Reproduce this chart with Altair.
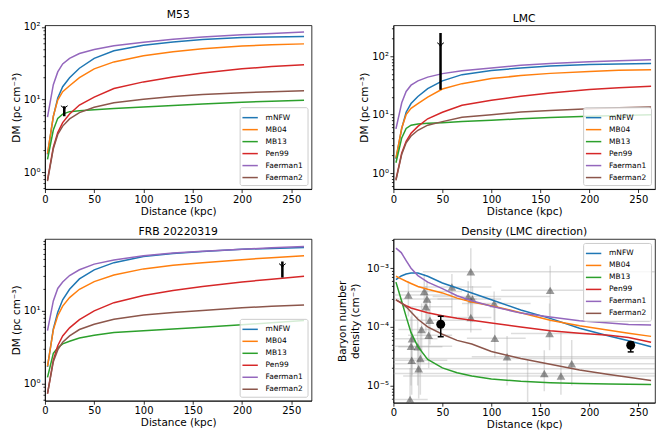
import altair as alt
import pandas as pd

FONT = "DejaVu Sans"
MODELS = ["mNFW", "MB04", "MB13", "Pen99", "Faerman1", "Faerman2"]
COLORS = ["#1f77b4", "#ff7f0e", "#2ca02c", "#d62728", "#9467bd", "#8c564b"]

# ---------------- DM panels (distance grid, kpc) ----------------
dist_dm = [2.6, 8.5, 13, 18, 25, 35, 50, 70, 100, 130, 160, 200, 230, 263]

# M53
m53_mnfw = [1.75, 5.8, 10.5, 15, 20, 27, 37, 47, 56, 62, 67, 71.5, 73, 74]
m53_mb04 = [1.8, 5.9, 9.8, 12.8, 15.5, 20, 26.5, 33, 40, 45.5, 50, 54.5, 56.8, 58.5]
m53_mb13 = [1.5, 3.8, 5.5, 6.3, 6.8, 7.0, 7.2, 7.5, 7.9, 8.3, 8.7, 9.2, 9.5, 9.8]
m53_pen99 = [0.78, 2.2, 3.5, 4.8, 6.3, 8.4, 10.8, 14.2, 17.5, 20.4, 23.2, 26.5, 28.5, 30.2]
m53_faer1 = [5.7, 16, 24, 31, 37, 43, 49, 55, 61.5, 67.5, 72.5, 78, 81.5, 85]
m53_faer2 = [0.75, 2.1, 3.3, 4.3, 5.4, 6.6, 7.8, 9.0, 10.1, 11.0, 11.7, 12.4, 12.8, 13.2]

# LMC
lmc_mnfw = [1.75, 5.8, 11, 15.5, 20.5, 28, 38, 48.5, 57, 63, 68, 72.5, 74, 75]
lmc_mb04 = [1.8, 5.9, 10, 12.8, 15.5, 20, 27.5, 34, 41.5, 46.8, 51, 55, 57.5, 59]
lmc_mb13 = [1.5, 4.0, 5.8, 6.6, 6.9, 7.1, 7.3, 7.6, 8.0, 8.5, 8.9, 9.4, 9.7, 10]
lmc_pen99 = [0.78, 2.2, 3.5, 4.8, 6.3, 8.5, 11, 14.5, 17.6, 20.6, 23.5, 27, 29, 30.6]
lmc_faer1 = [5.7, 16, 25, 32, 38, 44, 50.5, 56.5, 63, 70, 75, 80.5, 84, 87.5]
lmc_faer2 = [0.75, 2.1, 3.3, 4.3, 5.4, 6.6, 7.6, 9.0, 10, 11.1, 11.8, 12.6, 13.1, 13.5]

# FRB 20220319
frb_mnfw = [1.7, 5.6, 9.5, 14, 19.5, 27, 35.9, 45, 54.5, 60, 64, 68.6, 70.5, 72.3]
frb_mb04 = [1.72, 5.45, 8.5, 11.5, 15, 19.5, 24.8, 30.5, 37, 41.5, 45, 49.5, 52.5, 56]
frb_mb13 = [1.22, 2.6, 3.1, 3.5, 3.8, 4.2, 4.6, 5.0, 5.3, 5.6, 5.9, 6.4, 6.8, 7.3]
frb_pen99 = [0.73, 2.1, 3.3, 4.5, 5.8, 7.5, 9.9, 12.8, 16, 18.8, 21.2, 24.5, 26.8, 29.4]
frb_faer1 = [5.3, 13.5, 20, 24.5, 30, 36, 43, 49, 56, 61, 64.5, 68.6, 72, 75]
frb_faer2 = [0.73, 2.0, 2.9, 3.7, 4.5, 5.5, 6.5, 7.6, 8.7, 9.4, 10, 10.9, 11.4, 11.9]

# observational limits (distance, low, high, arrow position)
m53_lim = [19.6, 5.9, 8.05, 7.7]
lmc_lim = [48.1, 26.8, 251, 158]
frb_lim = [241, 28.2, 46.6, 41]

# ---------------- Density panel ----------------
dist_den = [2.6, 8, 13, 18, 25, 35, 50, 65, 80, 100, 130, 160, 190, 220, 240, 263]
den_mnfw = [6.4e-4, 7.4e-4, 8.0e-4, 8.3e-4, 8.3e-4, 7.3e-4, 5.6e-4, 4.6e-4, 3.8e-4, 2.9e-4,
            1.95e-4, 1.4e-4, 9.5e-5, 7.0e-5, 5.8e-5, 4.6e-5]
den_mb04 = [7.3e-4, 6.6e-4, 6.0e-4, 5.5e-4, 4.9e-4, 4.4e-4, 3.8e-4, 3.1e-4, 2.65e-4, 2.3e-4,
            1.75e-4, 1.3e-4, 1.05e-4, 8.8e-5, 7.8e-5, 6.9e-5]
den_mb13 = [5.8e-4, 2.9e-4, 1.5e-4, 8.0e-5, 4.6e-5, 2.8e-5, 2.0e-5, 1.65e-5, 1.45e-5, 1.3e-5,
            1.18e-5, 1.12e-5, 1.08e-5, 1.06e-5, 1.05e-5, 1.04e-5]
den_pen99 = [2.9e-4, 2.55e-4, 2.3e-4, 2.1e-4, 1.95e-4, 1.75e-4, 1.55e-4, 1.4e-4, 1.3e-4, 1.17e-4,
             1.0e-4, 8.6e-5, 7.8e-5, 7.2e-5, 6.6e-5, 5.5e-5]
den_faer1 = [2.2e-3, 1.85e-3, 1.35e-3, 1.0e-3, 7.5e-4, 5.8e-4, 4.5e-4, 3.4e-4, 2.8e-4, 2.25e-4,
             1.72e-4, 1.48e-4, 1.28e-4, 1.17e-4, 1.1e-4, 1.08e-4]
den_faer2 = [2.9e-4, 2.6e-4, 2.2e-4, 1.8e-4, 1.35e-4, 1.0e-4, 7.5e-5, 5.9e-5, 5.1e-5, 3.8e-5,
             2.9e-5, 2.3e-5, 1.85e-5, 1.55e-5, 1.38e-5, 1.22e-5]

# literature points (grey triangles) with errors
tri_d = [15.3, 31.5, 34.3, 33.2, 37.3, 28.8, 36.0, 19.0, 18.0, 18.7, 24.8, 27.5, 25.8, 17.0,
         59.7, 79.0, 76.3, 80.7, 79.0, 102.8, 103.5, 116.0, 154.0, 160.0, 159.4, 171.0, 182.0, 137.0]
tri_n = [3.5e-4, 4.0e-4, 3.0e-4, 2.2e-4, 1.3e-4, 9.0e-5, 7.2e-5, 6.3e-5, 4.7e-5, 2.7e-5, 4.6e-5,
         2.9e-5, 1.94e-5, 5.8e-6, 4.8e-4, 8.7e-4, 3.3e-4, 3.0e-4, 1.45e-4, 2.5e-4, 6.4e-5, 3.1e-5,
         1.6e-5, 4.2e-4, 7.7e-5, 1.46e-5, 2.35e-5, 3.5e-6]
tri_dlo = [0, 5, 0, 10, 0, 5, 15, 0, 0, 0, 5, 0, 0, 0,
           25, 30, 40, 45, 50, 70, 75, 80, 0, 110, 120, 10, 0, 100]
tri_dhi = [60, 70, 85, 60, 80, 90, 60, 45, 60, 55, 50, 270, 270, 35,
           100, 270, 160, 110, 100, 140, 135, 270, 270, 210, 200, 270, 270, 170]
tri_nlo = [1.5e-4, 2e-4, 1.2e-4, 8e-5, 5e-5, 3e-5, 2e-5, 1.5e-5, 1e-5, 7e-6, 1e-5, 7e-6, 6e-6, 2e-6,
           1.5e-4, 1.2e-4, 1.5e-4, 1.2e-4, 8e-5, 1.3e-4, 3e-5, 1e-5, 8e-6, 1.2e-4, 4e-5, 7e-6, 1e-5, 1e-6]
tri_nhi = [6e-4, 8e-4, 6e-4, 5e-4, 3e-4, 2.5e-4, 2e-4, 2e-4, 1.5e-4, 8e-5, 1.5e-4, 1e-4, 6e-5, 2e-5,
           8e-4, 2.2e-3, 6e-4, 5e-4, 3e-4, 4e-4, 2.5e-4, 7e-5, 4e-5, 1.1e-3, 2.5e-4, 8e-5, 6e-5, 2.8e-5]

# this work (black points)
obs_d = [48.3, 242.2]
obs_n = [1.11e-4, 4.87e-5]
obs_lo = [6.8e-5, 3.75e-5]
obs_hi = [1.52e-4, 5.5e-5]


def model_frame(dist, series):
    rows = []
    for name, vals in zip(MODELS, series):
        for d, v in zip(dist, vals):
            rows.append({"d": d, "v": v, "model": name})
    return pd.DataFrame(rows)


def minor_values(lo_exp, hi_exp, vmin, vmax):
    vals = []
    for e in range(lo_exp, hi_exp + 1):
        for k in range(1, 10):
            v = k * 10.0 ** e
            if vmin <= v <= vmax:
                vals.append(v)
    return vals


def y_axis(title, majors, labels, values, title_pad=2):
    parts = [f"abs(datum.value - {m:.10f}) < {m * 1e-6:.14f} ? '{l}'" for m, l in zip(majors, labels)]
    expr = " : ".join(parts) + " : ''"
    test = "abs(log(datum.value)/LN10 - round(log(datum.value)/LN10)) < 0.001"
    return alt.Axis(
        title=title, values=values, labelExpr=expr,
        tickSize={"condition": {"test": test, "value": 3.5}, "value": 2},
        grid=False, titlePadding=title_pad,
    )


def x_enc(xmax):
    return alt.X("d:Q", scale=alt.Scale(domain=[0, xmax], nice=False, zero=False),
                 axis=alt.Axis(title="Distance (kpc)", values=[0, 50, 100, 150, 200, 250],
                               labelFlush=False, grid=False, tickSize=3.5))


def legend(orient):
    return alt.Legend(
        orient=orient, offset=4, title=None, symbolType="M-1.4,0L1.4,0", symbolSize=121,
        symbolStrokeWidth=1.5, labelFontSize=7.5, labelFont=FONT, padding=4,
        strokeColor="#cccccc", fillColor="rgba(255,255,255,0.8)", cornerRadius=2,
        rowPadding=2, labelOffset=9,
    )


color_scale = alt.Scale(domain=MODELS, range=COLORS)

dm_title = "DM (pc cm⁻³)"
DM_MAJ = [1, 10, 100]
DM_LAB = ["10⁰", "10¹", "10²"]


def dm_panel(title, series, ydom, lim, xmax, w, h):
    df = model_frame(dist_dm, series)
    x = x_enc(xmax)
    y = alt.Y("v:Q", scale=alt.Scale(type="log", domain=ydom, nice=False),
              axis=y_axis(dm_title, DM_MAJ, DM_LAB, minor_values(-1, 2, ydom[0], ydom[1])))
    lines = alt.Chart(df).mark_line(strokeWidth=1.5, clip=True).encode(
        x=x, y=y, color=alt.Color("model:N", scale=color_scale, legend=legend("bottom-right")),
        detail="model:N")
    ldf = pd.DataFrame({"d": [lim[0]], "v": [lim[1]], "v2": [lim[2]]})
    bar = alt.Chart(ldf).mark_rule(strokeWidth=2.5, color="black", clip=True).encode(
        x=x, y=y, y2="v2:Q")
    adf = pd.DataFrame({"d": [lim[0]], "v": [lim[3]]})
    arrow = alt.Chart(adf).mark_point(
        shape="M-1,-0.6 Q-0.3,-0.3 0,0.6 Q0.3,-0.3 1,-0.6", filled=False, color="black",
        strokeWidth=1, size=45, opacity=1, clip=True).encode(x=x, y=y)
    return alt.layer(lines, bar, arrow).properties(
        title=title, width=w, height=h)


p1 = dm_panel("M53", [m53_mnfw, m53_mb04, m53_mb13, m53_pen99, m53_faer1, m53_faer2],
              [0.583, 105.5], m53_lim, 270.6, 267, 164)
p2 = dm_panel("LMC", [lmc_mnfw, lmc_mb04, lmc_mb13, lmc_pen99, lmc_faer1, lmc_faer2],
              [0.531, 340], lmc_lim, 267, 262, 164)
p3 = dm_panel("FRB 20220319", [frb_mnfw, frb_mb04, frb_mb13, frb_pen99, frb_faer1, frb_faer2],
              [0.586, 94.8], frb_lim, 270.6, 267, 162)

# density panel
den_dom = [5.1e-6, 3.16e-3]
x4 = x_enc(267)
y4 = alt.Y("v:Q", scale=alt.Scale(type="log", domain=den_dom, nice=False),
           axis=y_axis(["Baryon number", "density (cm⁻³)"], [1e-3, 1e-4, 1e-5],
                       ["10⁻³", "10⁻⁴", "10⁻⁵"], minor_values(-6, -3, den_dom[0], den_dom[1]),
                       title_pad=6))

dfd = model_frame(dist_den, [den_mnfw, den_mb04, den_mb13, den_pen99, den_faer1, den_faer2])
tri = pd.DataFrame({"d": tri_d, "v": tri_n})
tri_v = pd.DataFrame({"d": tri_d, "v": tri_nlo, "v2": tri_nhi})
tri_h = pd.DataFrame({"d": tri_dlo, "d2": tri_dhi, "v": tri_n})
obs = pd.DataFrame({"d": obs_d, "v": obs_n})
obs_bar = pd.DataFrame({"d": obs_d, "v": obs_lo, "v2": obs_hi})
obs_caps = pd.DataFrame({"d": obs_d + obs_d, "v": obs_lo + obs_hi})

l_herr = alt.Chart(tri_h).mark_rule(color="#aaaaaa", opacity=0.4, strokeWidth=1.5, clip=True).encode(
    x=x4, x2="d2:Q", y=y4)
l_verr = alt.Chart(tri_v).mark_rule(color="#aaaaaa", opacity=0.4, strokeWidth=1.5, clip=True).encode(
    x=x4, y=y4, y2="v2:Q")
l_tri = alt.Chart(tri).mark_point(shape="triangle-up", filled=True, color="#333333", opacity=0.5,
                                  size=75, clip=True).encode(x=x4, y=y4)
l_lines = alt.Chart(dfd).mark_line(strokeWidth=1.5, clip=True).encode(
    x=x4, y=y4, color=alt.Color("model:N", scale=color_scale, legend=legend("top-right")),
    detail="model:N")
l_obar = alt.Chart(obs_bar).mark_rule(color="black", strokeWidth=1.5).encode(x=x4, y=y4, y2="v2:Q")
l_ocap = alt.Chart(obs_caps).mark_point(shape="stroke", color="black", strokeWidth=1.5, size=36,
                                        opacity=1).encode(x=x4, y=y4)
l_obs = alt.Chart(obs).mark_circle(color="black", size=80, opacity=1).encode(x=x4, y=y4)

p4 = alt.layer(l_herr, l_verr, l_tri, l_lines, l_obar, l_ocap, l_obs).properties(
    title="Density (LMC direction)", width=262, height=164)

chart = alt.concat(p1, p2, p3, p4, columns=2, spacing={"row": 8, "column": 25}).resolve_legend(
    color="independent"
).properties(padding={"left": 2, "top": 0, "right": 0, "bottom": 0}).configure_axis(
    labelFont=FONT, titleFont=FONT, labelFontSize=10, titleFontSize=10.5, titleFontWeight="normal",
    labelColor="black", titleColor="black", tickColor="black", domainColor="black",
    tickWidth=0.8, domainWidth=0.8, labelPadding=1.5, titlePadding=2,
).configure_view(stroke="black", strokeWidth=0.8).configure_title(
    font=FONT, fontSize=10.8, fontWeight="normal", color="black", offset=2
).configure_legend(labelColor="black")

chart.save("out.html", embed_options={"renderer": "svg", "actions": False})
